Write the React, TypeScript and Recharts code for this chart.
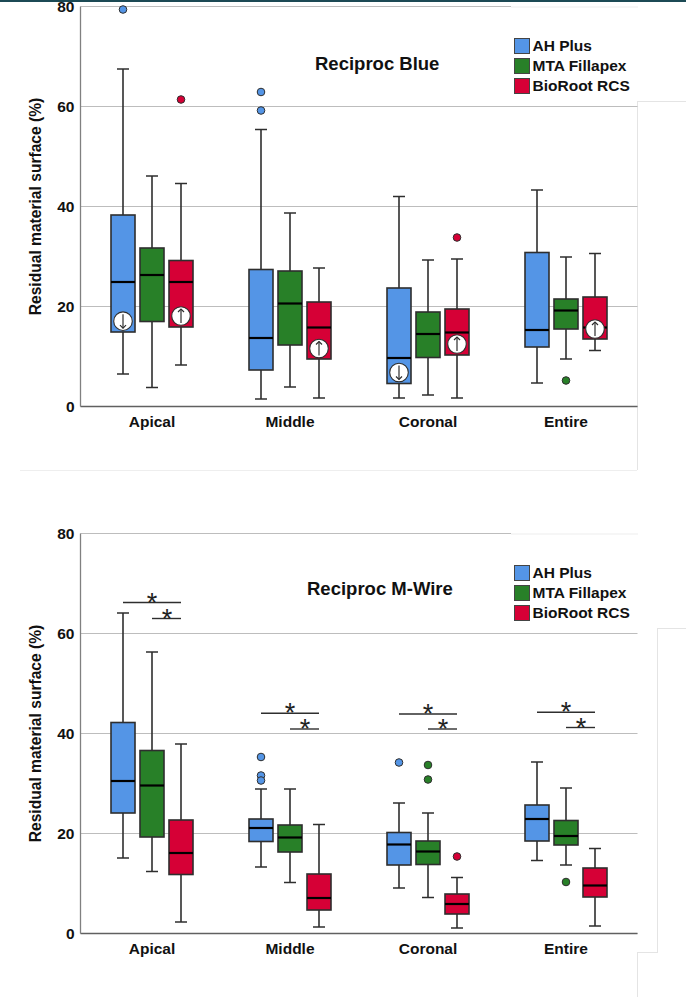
import React from "react";
import { ComposedChart, Bar, XAxis, YAxis, CartesianGrid, Legend } from "recharts";

const categories = ["Apical", "Middle", "Coronal", "Entire"];
const yTicks = [0, 20, 40, 60, 80];
const seriesNames = ["AH Plus", "MTA Fillapex", "BioRoot RCS"];
const seriesColors = ["#5495E6", "#288028", "#D60036"];

// Each row: [lower whisker, q1, median, q3, upper whisker]
const blueAH = [[6.5, 14.9, 24.9, 38.3, 67.5], [1.5, 7.3, 13.7, 27.4, 55.4], [1.7, 4.6, 9.7, 23.7, 42], [4.7, 11.9, 15.3, 30.8, 43.3]];
const blueMTA = [[3.8, 17, 26.3, 31.7, 46.1], [3.9, 12.3, 20.6, 27.1, 38.7], [2.3, 9.8, 14.5, 18.9, 29.3], [9.5, 15.5, 19.2, 21.5, 29.9]];
const blueBio = [[8.3, 15.9, 24.9, 29.2, 44.6], [1.7, 9.5, 15.8, 20.9, 27.7], [1.7, 10.3, 14.8, 19.5, 29.5], [11.2, 13.5, 15.8, 21.9, 30.6]];
const blueOutAH = [[79.4], [62.9, 59.2], [], []];
const blueOutMTA = [[], [], [], [5.2]];
const blueOutBio = [[61.4], [], [33.8], []];
// [value, direction] or null
const blueMarkAH = [[17.07, -1], null, [6.8, -1], null];
const blueMarkBio = [[18.1, 1], [11.6, 1], [12.5, 1], [15.5, 1]];

const wireAH = [[15.1, 24.1, 30.5, 42.2, 64.1], [13.3, 18.4, 21.1, 22.9, 28.9], [9.1, 13.7, 17.8, 20.2, 26.1], [14.6, 18.5, 22.9, 25.7, 34.3]];
const wireMTA = [[12.4, 19.3, 29.6, 36.6, 56.3], [10.2, 16.3, 19.2, 21.7, 28.9], [7.2, 13.8, 16.4, 18.5, 24.1], [13.7, 17.7, 19.5, 22.6, 29.1]];
const wireBio = [[2.3, 11.8, 16.1, 22.7, 37.9], [1.3, 4.7, 7.1, 11.9, 21.8], [1.1, 3.9, 5.9, 7.9, 11.2], [1.5, 7.3, 9.6, 13.1, 17]];
const wireOutAH = [[], [35.3, 31.6, 30.6], [34.2], []];
const wireOutMTA = [[], [], [33.7, 30.8], [10.3]];
const wireOutBio = [[], [], [15.4], []];
// Significance bars: [long bar value, short bar value]
const wireSig = [[66.2, 63], [44.06, 40.9], [43.9, 40.9], [44.26, 41.2]];

const buildRows = (ah, mta, bio, outs, marks, sig) =>
  categories.map((category, i) => ({
    category,
    s0: [ah[i][1], ah[i][3]],
    s1: [mta[i][1], mta[i][3]],
    s2: [bio[i][1], bio[i][3]],
    stats: [ah[i], mta[i], bio[i]],
    outs: outs.map((o) => o[i]),
    marks: marks.map((m) => (m ? m[i] : null)),
    sig: sig ? sig[i] : null,
  }));

const blueRows = buildRows(blueAH, blueMTA, blueBio, [blueOutAH, blueOutMTA, blueOutBio], [blueMarkAH, null, blueMarkBio], null);
const wireRows = buildRows(wireAH, wireMTA, wireBio, [wireOutAH, wireOutMTA, wireOutBio], [null, null, null], wireSig);

const DARK = "#2e2e2e";
const FONT = "'Liberation Sans', Arial, sans-serif";

const makeShape = (idx: number) => (props: any) => {
  const { x, y, width, height, payload } = props;
  const [wlo, q1, med, q3, whi] = payload.stats[idx];
  const perUnit = height / (q3 - q1);
  const py = (v: number) => y + (q3 - v) * perUnit;
  const cx = x + width / 2;
  const color = seriesColors[idx];
  const cap = 6;
  const mark = payload.marks[idx];
  const sig = payload.sig;
  return (
    <g>
      <line x1={cx} x2={cx} y1={py(whi)} y2={py(wlo)} stroke={DARK} strokeWidth={1.6} />
      <line x1={cx - cap} x2={cx + cap} y1={py(whi)} y2={py(whi)} stroke={DARK} strokeWidth={1.5} />
      <line x1={cx - cap} x2={cx + cap} y1={py(wlo)} y2={py(wlo)} stroke={DARK} strokeWidth={1.5} />
      <rect x={x} y={y} width={width} height={height} fill={color} stroke={DARK} strokeWidth={1.6} />
      <line x1={x} x2={x + width} y1={py(med)} y2={py(med)} stroke="#000" strokeWidth={2.2} />
      {payload.outs[idx].map((v: number, k: number) => (
        <circle key={k} cx={cx} cy={py(v)} r={3.8} fill={color} stroke={DARK} strokeWidth={1} />
      ))}
      {mark && (
        <g>
          <circle cx={cx} cy={py(mark[0])} r={9.3} fill="#fff" stroke={DARK} strokeWidth={1.1} />
          <line x1={cx} x2={cx} y1={py(mark[0]) - 7} y2={py(mark[0]) + 7} stroke={DARK} strokeWidth={1.2} />
          <polyline
            points={`${cx - 3},${py(mark[0]) - mark[1] * 4} ${cx},${py(mark[0]) - mark[1] * 7} ${cx + 3},${py(mark[0]) - mark[1] * 4}`}
            fill="none"
            stroke={DARK}
            strokeWidth={1.2}
          />
        </g>
      )}
      {idx === 0 && sig && (
        <g>
          <line x1={cx} x2={cx + 58} y1={py(sig[0])} y2={py(sig[0])} stroke={DARK} strokeWidth={1.4} />
          <line x1={cx + 29} x2={cx + 58} y1={py(sig[1])} y2={py(sig[1])} stroke={DARK} strokeWidth={1.4} />
          <text x={cx + 29} y={py(sig[0]) + 9} textAnchor="middle" fontSize={27} fontFamily={FONT} fill="#222">*</text>
          <text x={cx + 44} y={py(sig[1]) + 9} textAnchor="middle" fontSize={27} fontFamily={FONT} fill="#222">*</text>
        </g>
      )}
    </g>
  );
};

const LegendBox = ({ payload }: any) => (
  <div style={{ fontFamily: FONT, fontWeight: 700, fontSize: 15.5, color: "#111" }}>
    {(payload || []).map((p: any) => (
      <div key={p.value} style={{ display: "flex", alignItems: "center", height: 20 }}>
        <span style={{ width: 13.5, height: 13.5, background: p.color, border: "1px solid #444", marginRight: 3, display: "inline-block" }} />
        <span>{p.value}</span>
      </div>
    ))}
  </div>
);

const Panel = ({ rows, top, title, titleLeft, titleTop, legendTop }: any) => (
  <div style={{ position: "absolute", left: 0, top, width: 686, height: 480 }}>
    <ComposedChart
      width={686}
      height={480}
      data={rows}
      barSize={24}
      barGap={5}
      margin={{ top: 16.5, right: 48.5, bottom: 0, left: 0 }}
    >
      <CartesianGrid vertical={false} stroke="#bdbdbd" strokeWidth={1.2} />
      <XAxis
        dataKey="category"
        height={63.5}
        padding={{ left: 2.5, right: 2.5 }}
        tickLine={false}
        tickMargin={3}
        axisLine={{ stroke: "#606060", strokeWidth: 1.3 }}
        tick={{ fontFamily: FONT, fontWeight: 700, fontSize: 15.5, fill: "#111" }}
      />
      <YAxis
        width={80.5}
        domain={[0, 80]}
        ticks={yTicks}
        tickLine={false}
        tickMargin={0}
        axisLine={{ stroke: "#808080", strokeWidth: 1.3 }}
        tick={{ fontFamily: FONT, fontWeight: 700, fontSize: 15.5, fill: "#111" }}
        label={{
          value: "Residual material surface (%)",
          angle: -90,
          position: "insideLeft",
          offset: 0,
          dx: 35,
          style: { fontFamily: FONT, fontWeight: 700, fontSize: 15.6, fill: "#111", textAnchor: "middle" },
        }}
      />
      <Legend
        layout="vertical"
        align="center"
        verticalAlign="middle"
        itemSorter={null}
        wrapperStyle={{ left: 514, top: legendTop, width: 150 }}
        content={<LegendBox />}
      />
      {seriesNames.map((name, i) => (
        <Bar key={name} dataKey={`s${i}`} name={name} fill={seriesColors[i]} isAnimationActive={false} shape={makeShape(i)} />
      ))}
    </ComposedChart>
    <div style={{ position: "absolute", left: titleLeft, top: titleTop, fontFamily: FONT, fontWeight: 700, fontSize: 18.5, color: "#111", whiteSpace: "nowrap" }}>
      {title}
    </div>
    <div style={{ position: "absolute", left: 511, top: 16, width: 127, height: 2, background: "#f6f6f6" }} />
  </div>
);

const frameLines = [
  { left: 0, top: 0, width: 686, height: 1.5, background: "#1c4a55" },
  { left: 637, top: 101, width: 1, height: 369, background: "#e4e4e4" },
  { left: 638, top: 101, width: 48, height: 1, background: "#e4e4e4" },
  { left: 20, top: 470, width: 617, height: 1, background: "#eeeeee" },
  { left: 657, top: 628, width: 1, height: 324, background: "#e4e4e4" },
  { left: 658, top: 628, width: 28, height: 1, background: "#e4e4e4" },
  { left: 637, top: 952, width: 21, height: 1, background: "#e4e4e4" },
  { left: 637, top: 952, width: 1, height: 45, background: "#e4e4e4" },
];

export default function App() {
  return (
    <div style={{ position: "absolute", left: 0, top: 0, width: 686, height: 997, overflow: "hidden", background: "#fff" }}>
      {frameLines.map((s, i) => (
        <div key={i} style={{ position: "absolute", ...s }} />
      ))}
      <Panel rows={blueRows} top={-10} title="Reciproc Blue" titleLeft={315} titleTop={62.5} legendTop={46} />
      <Panel rows={wireRows} top={517} title="Reciproc M-Wire" titleLeft={307} titleTop={60.5} legendTop={46} />
    </div>
  );
}
